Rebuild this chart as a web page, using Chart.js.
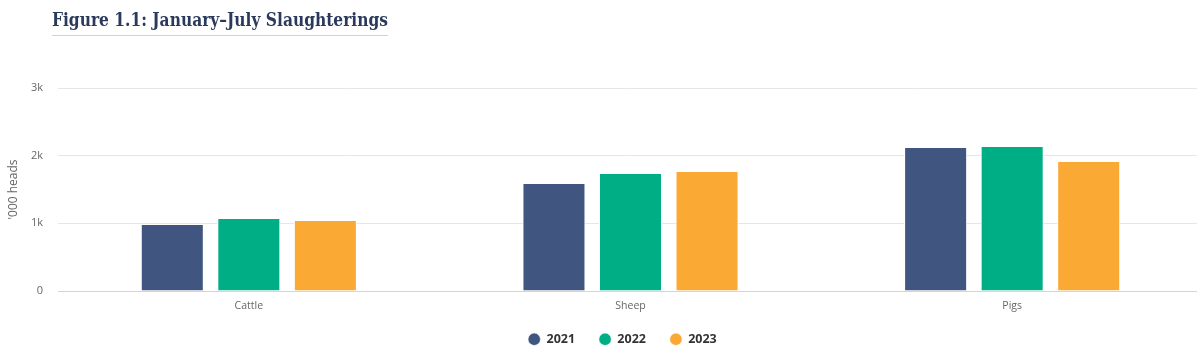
<!DOCTYPE html>
<html>
<head>
<meta charset="utf-8">
<script src="https://cdn.jsdelivr.net/npm/chart.js@4.4.0/dist/chart.umd.min.js"></script>
<style>
  html, body { margin: 0; padding: 0; background: #fff; overflow: hidden; }
  #wrap { position: relative; width: 1203px; height: 358px; }
  #title {
    position: absolute; left: 52px; top: 11px;
    font-family: "DejaVu Serif", serif; font-weight: bold; font-size: 18.5px; line-height: 18.5px;
    color: #2b3a5c; white-space: nowrap; transform-origin: 0 0;
  }
  #rule { position: absolute; left: 52px; top: 35px; width: 336px; height: 0; border-top: 1px solid #ccd3dd; }
  #c { position: absolute; left: 0; top: 0; }
</style>
</head>
<body>
<div id="wrap">
  <canvas id="c" width="1203" height="358"></canvas>
  <div id="title">Figure 1.1: January–July Slaughterings</div>
  <div id="rule"></div>
</div>
<script>
const categories = ["Cattle", "Sheep", "Pigs"];
const seriesNames = ["2021", "2022", "2023"];
const values2021 = [975, 1580, 2112];
const values2022 = [1063, 1728, 2127];
const values2023 = [1034, 1758, 1905];
const yTicks = [0, 1000, 2000, 3000];
const yTickLabels = ["0", "1k", "2k", "3k"];
const colors = ["#405580", "#00ae86", "#fba935"];

const seriesValues = [values2021, values2022, values2023];

// fit title width to the reference rule
const t = document.getElementById("title");
const tw = t.getBoundingClientRect().width;
t.style.transform = "scaleX(" + (336 / tw) + ")";

const legendShift = {
  id: "legendShift",
  afterLayout(chart) {
    const lg = chart.legend;
    if (lg) { lg.left -= 8; lg.right -= 8; lg.top -= 4; lg.bottom -= 4; }
  }
};

new Chart(document.getElementById("c"), {
  type: "bar",
  data: {
    labels: categories,
    datasets: seriesNames.map((name, i) => ({
      label: name,
      data: seriesValues[i],
      backgroundColor: colors[i],
      borderColor: "#ffffff",
      borderWidth: { left: 1, right: 1, top: 0, bottom: 0 },
      borderSkipped: false,
      categoryPercentage: 0.6016,
      barPercentage: 0.8235
    }))
  },
  plugins: [legendShift],
  options: {
    responsive: false,
    animation: false,
    layout: { padding: { top: 88, left: 0, right: 0, bottom: -1.5 } },
    plugins: {
      tooltip: { enabled: false },
      legend: {
        position: "bottom",
        fullSize: false,
        labels: {
          usePointStyle: true,
          pointStyle: "circle",
          boxWidth: 12,
          boxHeight: 8.7,
          padding: 24,
          color: "#333333",
          font: { family: "'Open Sans', sans-serif", size: 12.5, weight: "bold" }
        }
      }
    },
    scales: {
      x: {
        afterFit: (scale) => { scale.height = 22; },
        grid: { display: false, drawTicks: false },
        border: { display: true, color: "#ccd6eb", width: 1 },
        ticks: {
          padding: 9,
          color: "#666666",
          font: { family: "'Open Sans', sans-serif", size: 10.5 }
        }
      },
      y: {
        min: 0,
        max: 3000,
        afterFit: (scale) => { scale.width = 58; },
        afterBuildTicks: (scale) => { scale.ticks = yTicks.map(v => ({ value: v })); },
        grid: { color: "#e6e6e6", drawTicks: false },
        border: { display: false },
        ticks: {
          padding: 15,
          color: "#666666",
          font: { family: "'Open Sans', sans-serif", size: 11 },
          callback: (v) => yTickLabels[yTicks.indexOf(v)]
        },
        title: {
          display: true,
          text: "'000 heads",
          color: "#666666",
          padding: { top: 6, bottom: 0 },
          font: { family: "'Open Sans', sans-serif", size: 12 }
        }
      }
    }
  }
});
</script>
</body>
</html>
